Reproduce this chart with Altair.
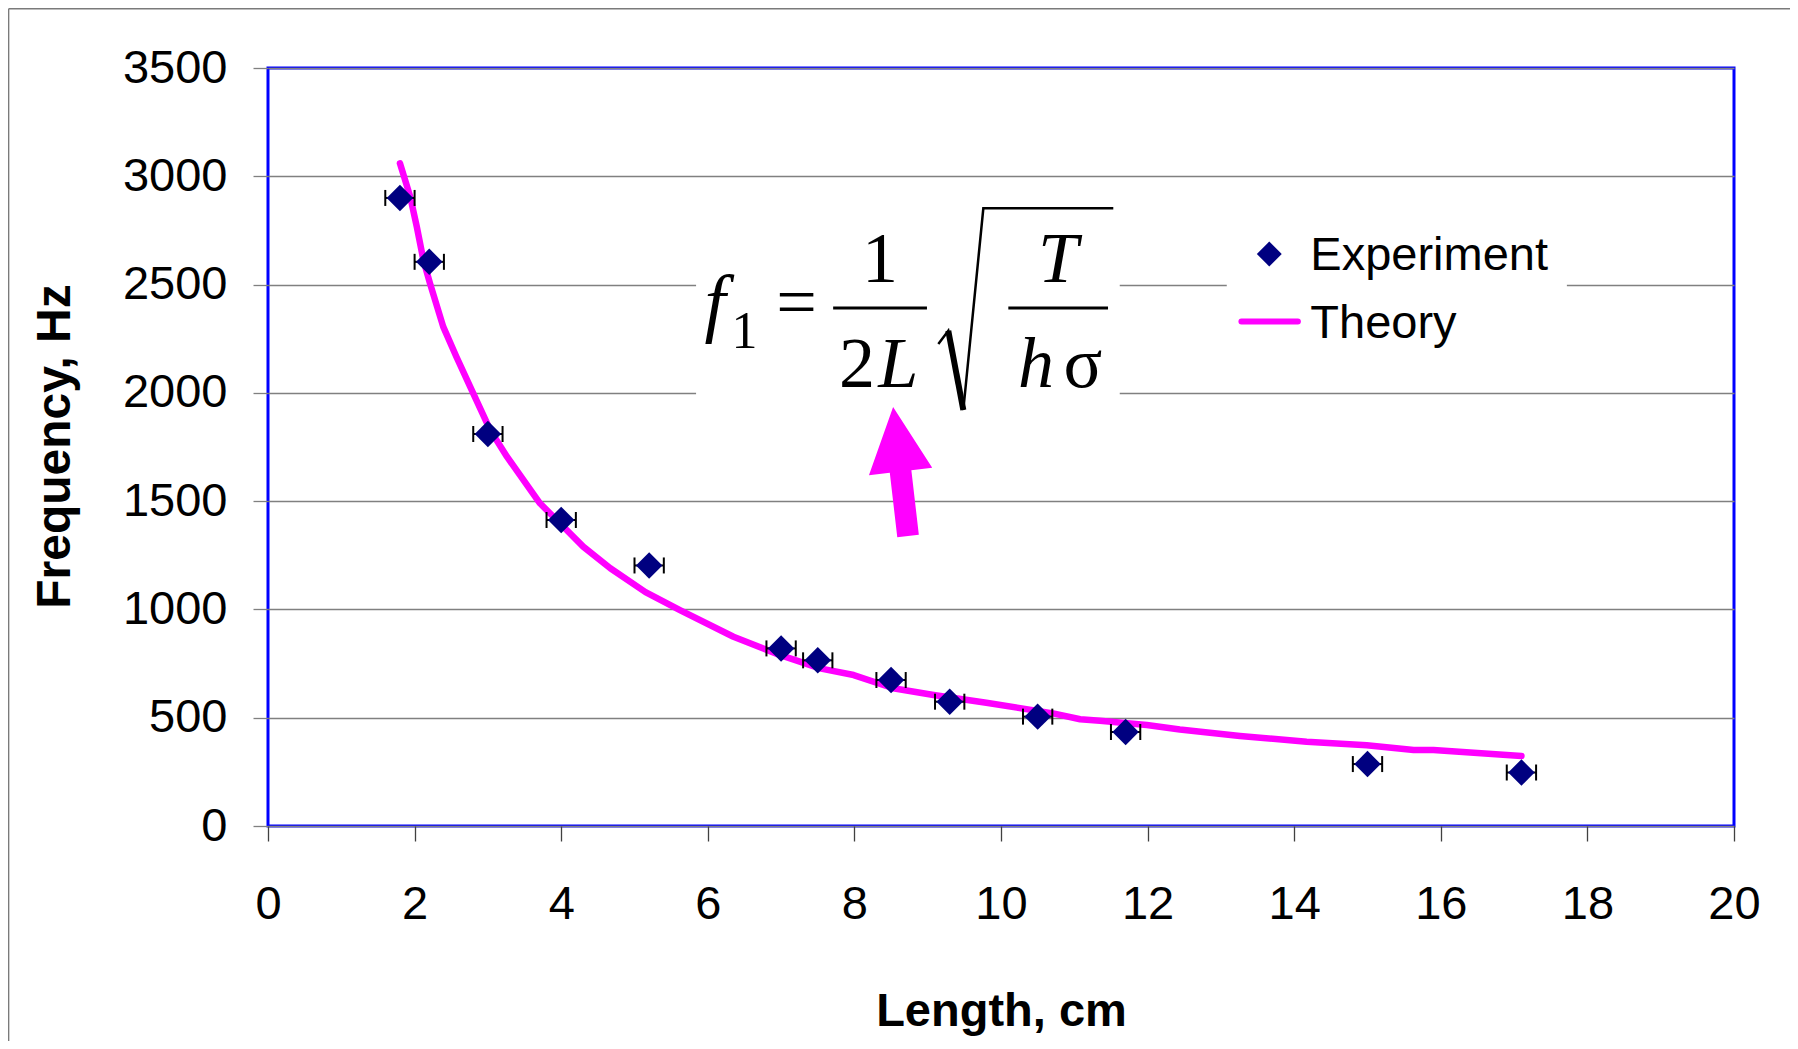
import altair as alt
import pandas as pd

# ---------------- data ----------------
exp_length = [1.8, 2.2, 3.0, 4.0, 5.2, 7.0, 7.5, 8.5, 9.3, 10.5, 11.7, 15.0, 17.1]
exp_freq = [2900, 2605, 1810, 1413, 1203, 820, 765, 674, 574, 505, 434, 286, 247]
length_err = 0.2

theory_length = [1.8, 1.94, 2.03, 2.12, 2.21, 2.39, 2.57, 2.80, 3.03, 3.26, 3.71,
                 4.03, 4.30, 4.67, 5.15, 5.62, 6.35, 6.98, 7.53, 7.99, 8.53, 9.08,
                 9.80, 10.71, 11.08, 11.35, 11.99, 12.44, 13.26, 14.17, 14.99,
                 15.63, 15.90, 17.10]
theory_freq = [3060, 2906, 2767, 2613, 2506, 2306, 2167, 1998, 1829, 1705, 1490,
               1382, 1290, 1190, 1080, 997, 874, 790, 728, 697, 636, 605,
               569, 520, 493, 486, 466, 446, 416, 389, 373,
               351, 351, 323]

x_ticks = list(range(0, 21, 2))
y_ticks = list(range(0, 3501, 500))
legend_labels = ["Experiment", "Theory"]
x_title = "Length, cm"
y_title = "Frequency, Hz"

# formula pieces (text, anchor in data units)
formula_upright_text = ["1", "=", "1", "2", "σ"]
formula_upright_x = [6.50, 7.210, 8.350, 8.036, 11.119]
formula_upright_y = [2207, 2309, 2512, 2027, 2027]
formula_upright_size = [52, 72, 72, 72, 72]
formula_italic_text = ["f", "L", "T", "h"]
formula_italic_x = [6.10, 8.597, 10.778, 10.477]
formula_italic_y = [2300, 2027, 2512, 2027]

FONT = "Liberation Sans"
SERIF = "Liberation Serif"
NAVY = "#000080"
MAGENTA = "#FF00FF"

W, H = 1466, 758

xs = alt.Scale(domain=[0, 20], nice=False, zero=False)
ys = alt.Scale(domain=[0, 3500], nice=False, zero=False)

exp = pd.DataFrame({"L": exp_length, "f": exp_freq})
exp["lo"] = exp["L"] - length_err
exp["hi"] = exp["L"] + length_err
caps = pd.DataFrame({"L": list(exp["lo"]) + list(exp["hi"]), "f": exp_freq + exp_freq})
theory = pd.DataFrame({"L": theory_length, "f": theory_freq,
                       "o": list(range(len(theory_length)))})

x_axis = alt.Axis(values=x_ticks, title=x_title, grid=False, domain=False,
                  format="d",
                  tickSize=15, tickColor="#404040", tickWidth=1.3,
                  labelFont=FONT, labelFontSize=47, labelColor="black",
                  labelPadding=40, labelFlush=False,
                  titleFont=FONT, titleFontSize=47, titleFontWeight="bold",
                  titleColor="black", titleX=W / 2, titleY=199,
                  titleAlign="center", titleBaseline="alphabetic")
y_axis = alt.Axis(values=y_ticks, title=y_title, grid=True, gridColor="#808080",
                  gridWidth=1.3, domain=False, format="d",
                  tickSize=15, tickColor="#808080",
                  tickWidth=1.3, labelFont=FONT, labelFontSize=47,
                  labelColor="black", labelPadding=26, labelFlush=False,
                  titleFont=FONT, titleFontSize=48, titleFontWeight="bold",
                  titleColor="black", titleAngle=270, titleX=-199, titleY=378,
                  titleAlign="center", titleBaseline="alphabetic")


def X(field):
    return alt.X(field, type="quantitative", scale=xs, axis=x_axis, title=x_title)


def Y(field):
    return alt.Y(field, type="quantitative", scale=ys, axis=y_axis, title=y_title)


# white boxes behind formula and legend (cover the grid lines)
boxes = pd.DataFrame({"x": [5.84, 13.08], "x2": [11.62, 17.72],
                      "y": [1898, 2152], "y2": [2890, 2867]})
box_layer = alt.Chart(boxes).mark_rect(color="white").encode(
    x=X("x"), x2="x2", y=Y("y"), y2="y2")

# theory line
line = alt.Chart(theory).mark_line(color=MAGENTA, strokeWidth=6.5, strokeCap="round",
                                   strokeJoin="round").encode(
    x=X("L"), y=Y("f"), order="o:Q")

err_rule = alt.Chart(exp).mark_rule(color="black", strokeWidth=2).encode(
    x=X("lo"), x2="hi", y=Y("f"))
err_caps = alt.Chart(caps).mark_tick(color="black", orient="vertical", size=16,
                                     thickness=2, opacity=1).encode(
    x=X("L"), y=Y("f"))
points = alt.Chart(exp).mark_point(shape="diamond", filled=True, size=700,
                                   color=NAVY, opacity=1).encode(
    x=X("L"), y=Y("f"))

# formula
f_up = pd.DataFrame({"t": formula_upright_text, "x": formula_upright_x,
                     "y": formula_upright_y, "s": formula_upright_size})
f_it = pd.DataFrame({"t": formula_italic_text, "x": formula_italic_x,
                     "y": formula_italic_y, "s": [76, 72, 72, 72]})
txt_up = alt.Chart(f_up).mark_text(font=SERIF, align="center", baseline="alphabetic",
                                   color="black").encode(
    x=X("x"), y=Y("y"), text="t:N", size=alt.Size("s:Q", scale=None, legend=None))
txt_it = alt.Chart(f_it).mark_text(font=SERIF, fontStyle="italic", align="center",
                                   baseline="alphabetic", color="black").encode(
    x=X("x"), y=Y("y"), text="t:N", size=alt.Size("s:Q", scale=None, legend=None))
bars = pd.DataFrame({"x": [7.71, 10.10], "x2": [8.99, 11.46], "y": [2392, 2392]})
bar_layer = alt.Chart(bars).mark_rule(color="black", strokeWidth=3).encode(
    x=X("x"), x2="x2", y=Y("y"))
radical = pd.DataFrame({"x": [9.145, 9.281, 9.486, 9.759, 11.532],
                        "y": [2226, 2287, 1921, 2852, 2852], "o": [0, 1, 2, 3, 4]})
rad_thin = alt.Chart(radical).mark_line(color="black", strokeWidth=2.5,
                                        strokeJoin="miter").encode(
    x=X("x"), y=Y("y"), order="o:Q")
rad_thick = alt.Chart(radical.iloc[1:3]).mark_line(color="black", strokeWidth=6,
                                                   strokeCap="butt").encode(
    x=X("x"), y=Y("y"), order="o:Q")

# arrow
arrow_path = "M0,-1L0.49,0L0.167,0L0.167,1L-0.167,1L-0.167,0L-0.49,0Z"
arrow = alt.Chart(pd.DataFrame({"x": [8.63], "y": [1637]})).mark_point(
    shape=arrow_path, size=16900, angle=353.4, filled=True, color=MAGENTA,
    opacity=1, strokeWidth=0).encode(x=X("x"), y=Y("y"))

# legend
leg_sym = alt.Chart(pd.DataFrame({"x": [13.66], "y": [2641]})).mark_point(
    shape="diamond", filled=True, size=620, color=NAVY, opacity=1).encode(
    x=X("x"), y=Y("y"))
leg_line = alt.Chart(pd.DataFrame({"x": [13.28], "x2": [14.05], "y": [2329]})).mark_rule(
    color=MAGENTA, strokeWidth=6, strokeCap="round").encode(
    x=X("x"), x2="x2", y=Y("y"))
leg_txt = alt.Chart(pd.DataFrame({"t": legend_labels, "x": [14.22, 14.22],
                                  "y": [2567, 2252]})).mark_text(
    font=FONT, fontSize=47, align="left", baseline="alphabetic", color="black").encode(
    x=X("x"), y=Y("y"), text="t:N")

# outer frame of the chart area
dummy = pd.DataFrame({"a": [0]})
frame_left = alt.Chart(dummy).mark_rule(color="#7a7a7a", strokeWidth=1.5).encode(
    x=alt.value(-259.4), y=alt.value(-59.3), y2=alt.value(980))
frame_top = alt.Chart(dummy).mark_rule(color="#7a7a7a", strokeWidth=1.5).encode(
    x=alt.value(-259.4), x2=alt.value(1530), y=alt.value(-59.3))

chart = alt.layer(
    box_layer, line, err_rule, err_caps, points,
    bar_layer, rad_thin, rad_thick, txt_up, txt_it,
    leg_sym, leg_line, leg_txt, arrow, frame_left, frame_top
).properties(
    width=W, height=H,
    autosize=alt.AutoSizeParams(type="none"),
    padding={"left": 260, "top": 60, "right": 56, "bottom": 215},
    background="white",
).configure_view(stroke="#0000FF", strokeWidth=3)

chart.save("out.html", embed_options={"renderer": "svg", "actions": False})
